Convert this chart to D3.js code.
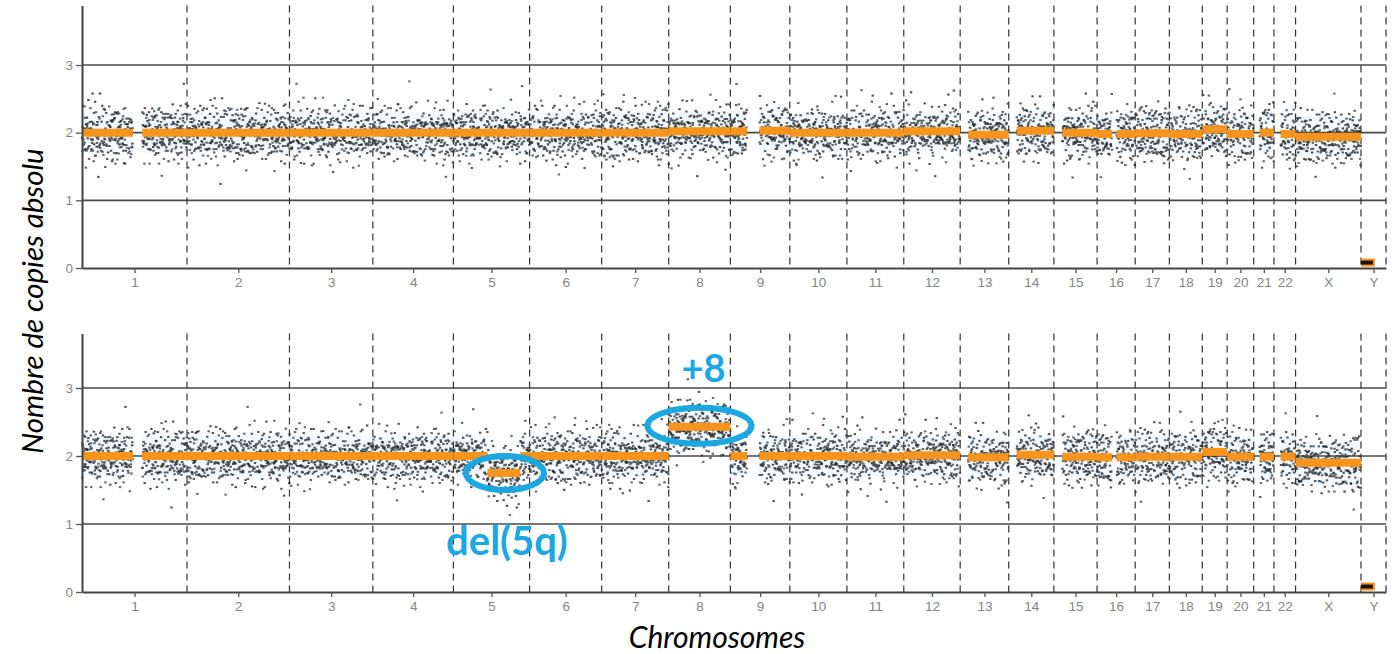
<!DOCTYPE html>
<html>
<head>
<meta charset="utf-8">
<title>Copy number profile</title>
<script src="https://d3js.org/d3.v7.min.js"></script>
<style>
  body { margin: 0; background: #fff; }
  svg text { font-family: "Liberation Sans", Arial, sans-serif; }
</style>
</head>
<body>
<div id="chart"></div>
<script>
// chromosomes and their lengths in Mb (x positions are genome-proportional)
const chromNames = ['1','2','3','4','5','6','7','8','9','10','11','12','13','14','15','16','17','18','19','20','21','22','X','Y'];
const chromLengths = [249.3, 243.2, 198.0, 191.2, 180.9, 171.1, 159.1, 146.4, 141.2, 135.5, 135.0, 133.9,
                      115.2, 107.3, 102.5, 90.4, 81.2, 78.1, 59.1, 63.0, 48.1, 51.3, 155.3, 59.4];
const copyTicks = [0, 1, 2, 3];

// segmented copy number: [chrom, start Mb, end Mb, copies]
const segmentsBefore = [
  ['1',0,121,2.0],['1',143,249.3,2.0],['2',0,243.2,2.0],['3',0,198,2.0],['4',0,191.2,2.0],
  ['5',0,180.9,2.0],['6',0,171.1,2.0],['7',0,159.1,2.0],['8',0,146.4,2.02],
  ['9',0,40,2.02],['9',69,141.2,2.03],['10',0,135.5,2.0],['11',0,135,2.0],['12',0,133.9,2.02],
  ['13',19,115.2,1.97],['14',19,107.3,2.03],['15',20,102.5,2.0],['16',0,36,1.98],['16',46,90.4,1.98],
  ['17',0,81.2,1.99],['18',0,78.1,1.98],['19',0,59.1,2.05],['20',0,63,1.98],['21',14,48.1,2.0],
  ['22',16,51.3,1.98],['X',0,155.3,1.94],['Y',0,33,0.08]
];
const segmentsAfter = [
  ['1',0,121,2.0],['1',143,249.3,2.0],['2',0,243.2,2.0],['3',0,198,2.0],['4',0,191.2,2.0],
  ['5',0,81,2.0],['5',81,159,1.75],['5',159,180.9,2.0],['6',0,171.1,2.0],['7',0,159.1,2.0],
  ['8',0,146.4,2.43],['9',0,40,2.0],['9',69,141.2,2.0],['10',0,135.5,2.0],['11',0,135,1.99],
  ['12',0,133.9,2.01],['13',19,115.2,1.98],['14',19,107.3,2.02],['15',20,102.5,1.99],
  ['16',0,36,1.98],['16',46,90.4,1.98],['17',0,81.2,1.99],['18',0,78.1,1.99],['19',0,59.1,2.06],
  ['20',0,63,1.99],['21',14,48.1,1.99],['22',16,51.3,1.99],['X',0,155.3,1.9],['Y',0,33,0.08]
];
const noProbes = ['Y'];

// probe deviations from segment level, as letters (m = 0) and fine digits
const probeNoise =
  'lmjqnkohpmlrinkmgpljnqmkiolsnmhjpkmlqonj' + 'mkpiltnjmohqkmlnrjgmponkilmqhncjkpmoltimk' +
  'nljpmkqhonmirlkjmpnflmoqkjnhmplikonmrjlm' + 'kqmnjolphmkinqlsmjonkplhmqjnkmoilpnmgkrj' +
  'pmlnkjqomhlinpmkojrndlmkhqpmjnlokimpqnljm' + 'ojmknlpimqhnkmljopmnkirlmjhnqpkomlnjtkmo' +
  'mnkjlopqhmnkilmjpnokumqlhjnmrkolpimnkjqml' + 'lkonmjpihqmnlkojmnpkelimqjnomhkplnmqkjoln' +
  'nmpkjlqohmnkilpmjonqkmlhrnvjmokpilmnqkjom' + 'kmljnopqimhknljmpokqmnlijhmoprnkmwljqnmko' +
  'jrmlnhokpmqgnljmkoipnmslkhjmqonlpkimnjro' + 'mkhnpljqomnkirmjlpogmknqljhomnpkltmjnkql';
const probeFine = '47290538162749150382647195083624179583026147390285163';
const dotColors = ['#1e1e1e', '#333333', '#2b3c4e', '#262626', '#3d3d3d', '#35495c', '#2a2a2a'];

const width = 1393, height = 654;
const orange = '#f7941d', blue = '#1ba8e2';

const svg = d3.select('#chart').append('svg').attr('width', width).attr('height', height);

const total = d3.sum(chromLengths);
const starts = d3.cumsum([0, ...chromLengths]);
const idx = name => chromNames.indexOf(name);
const pos = (c, mb) => starts[idx(c)] + mb;

const x = d3.scaleLinear().domain([0, total]).range([82, 1386]);
const mids = chromNames.map((c, i) => starts[i] + chromLengths[i] / 2);

const panels = [
  {y0: 268, y3: 65, top: 3.88, segs: segmentsBefore, phase: 0},
  {y0: 592, y3: 388, top: 3.8, segs: segmentsAfter, phase: 211}
];

panels.forEach(p => {
  const y = d3.scaleLinear().domain([0, 3]).range([p.y0, p.y3]);
  const g = svg.append('g');

  // faint halo around the segments
  g.selectAll('rect.halo').data(p.segs.filter(s => !noProbes.includes(s[0])))
    .join('rect').attr('class', 'halo')
    .attr('x', s => x(pos(s[0], s[1]))).attr('width', s => x(pos(s[0], s[2])) - x(pos(s[0], s[1])))
    .attr('y', s => y(s[3] + 0.3)).attr('height', s => y(s[3] - 0.3) - y(s[3] + 0.3))
    .attr('fill', '#f3f9fd');

  // horizontal grid
  g.selectAll('line.grid').data(copyTicks.slice(1)).join('line').attr('class', 'grid')
    .attr('x1', x(0)).attr('x2', x(total)).attr('y1', d => y(d)).attr('y2', d => y(d))
    .attr('stroke', '#4a4a4a').attr('stroke-width', 1.6);

  // chromosome boundaries
  g.selectAll('line.bound').data(starts.slice(1)).join('line').attr('class', 'bound')
    .attr('x1', d => x(d)).attr('x2', d => x(d)).attr('y1', y(p.top)).attr('y2', y(0))
    .attr('stroke', '#333').attr('stroke-width', 1.2).attr('stroke-dasharray', '7,5');

  // probes
  const probes = [];
  let k = p.phase;
  p.segs.forEach(s => {
    if (noProbes.includes(s[0])) return;
    const step = 0.55;
    const n = Math.floor((s[2] - s[1]) / step);
    for (let i = 0; i < n; i++) {
      const a = probeNoise.charCodeAt(k % probeNoise.length) - 97;
      const b = +probeFine[k % probeFine.length];
      probes.push({pos: pos(s[0], s[1] + (i + 0.5) * step), cn: s[3] + (a - 12) * 0.06 + (b - 4.5) * 0.035, c: k % dotColors.length});
      k++;
    }
  });
  g.selectAll('rect.probe').data(probes).join('rect').attr('class', 'probe')
    .attr('x', d => x(d.pos) - 1.2).attr('y', d => y(d.cn) - 1)
    .attr('width', 2.4).attr('height', 2)
    .attr('fill', d => dotColors[d.c]).attr('opacity', 0.8);

  // segments
  g.selectAll('line.seg').data(p.segs).join('line').attr('class', 'seg')
    .attr('x1', s => x(pos(s[0], s[1]))).attr('x2', s => x(pos(s[0], s[2])))
    .attr('y1', s => y(s[3])).attr('y2', s => y(s[3]))
    .attr('stroke', orange).attr('stroke-width', 8);
  g.selectAll('line.segLow').data(p.segs.filter(s => s[3] < 0.5)).join('line').attr('class', 'segLow')
    .attr('x1', s => x(pos(s[0], s[1]))).attr('x2', s => x(pos(s[0], s[2])) - 2)
    .attr('y1', s => y(s[3])).attr('y2', s => y(s[3]))
    .attr('stroke', '#1a1208').attr('stroke-width', 4);

  // axes
  const ya = g.append('g').attr('transform', `translate(${x(0)},0)`)
    .call(d3.axisLeft(y.copy().domain([0, p.top]).range([p.y0, y(p.top)]))
      .tickValues(copyTicks).tickSize(6).tickSizeOuter(0).tickPadding(3).tickFormat(d3.format('d')));
  const xa = g.append('g').attr('transform', `translate(0,${p.y0})`)
    .call(d3.axisBottom(x).tickValues(mids).tickSize(5).tickSizeOuter(0).tickPadding(4)
      .tickFormat((d, i) => chromNames[i]));
  [ya, xa].forEach(a => {
    a.select('.domain').attr('stroke', '#444').attr('stroke-width', 2);
    a.selectAll('.tick line').attr('stroke', '#555').attr('stroke-width', 1.3);
    a.selectAll('.tick text').attr('fill', '#858585').style('font-size', '13.5px');
  });
  p.y = y;
});

// annotations on the second profile
const yb = panels[1].y;
const del5 = segmentsAfter.find(s => s[0] === '5' && s[3] < 2);
const tri8 = segmentsAfter.find(s => s[0] === '8');
const cx5 = x(pos('5', (del5[1] + del5[2]) / 2)), cy5 = yb(del5[3]);
const cx8 = x(pos('8', (tri8[1] + tri8[2]) / 2)), cy8 = yb(tri8[3]);

svg.append('ellipse').attr('cx', cx5 + 1).attr('cy', cy5).attr('rx', 39).attr('ry', 17)
  .attr('fill', 'none').attr('stroke', blue).attr('stroke-width', 6);
svg.append('ellipse').attr('cx', cx8).attr('cy', cy8 - 1).attr('rx', 52).attr('ry', 18)
  .attr('fill', 'none').attr('stroke', blue).attr('stroke-width', 6);
svg.append('text').attr('x', cx5 + 3).attr('y', cy5 + 82).attr('text-anchor', 'middle')
  .style('font-family', 'Lato, "Open Sans", sans-serif').style('font-weight', 'bold').style('font-size', '40px')
  .attr('fill', blue).text('del(5q)');
svg.append('text').attr('x', cx8 + 4).attr('y', cy8 - 45).attr('text-anchor', 'middle')
  .style('font-family', 'Lato, "Open Sans", sans-serif').style('font-weight', 'bold').style('font-size', '38px')
  .attr('fill', blue).text('+8');

// axis titles
svg.append('text').attr('transform', 'translate(43,301) rotate(-90)').attr('text-anchor', 'middle')
  .style('font-family', 'Lato, "Open Sans", sans-serif').style('font-style', 'italic').style('font-size', '29.5px')
  .attr('fill', '#000').text('Nombre de copies absolu');
svg.append('text').attr('x', 717).attr('y', 648).attr('text-anchor', 'middle')
  .style('font-family', 'Lato, "Open Sans", sans-serif').style('font-style', 'italic').style('font-size', '30px')
  .attr('fill', '#000').text('Chromosomes');
</script>
</body>
</html>
